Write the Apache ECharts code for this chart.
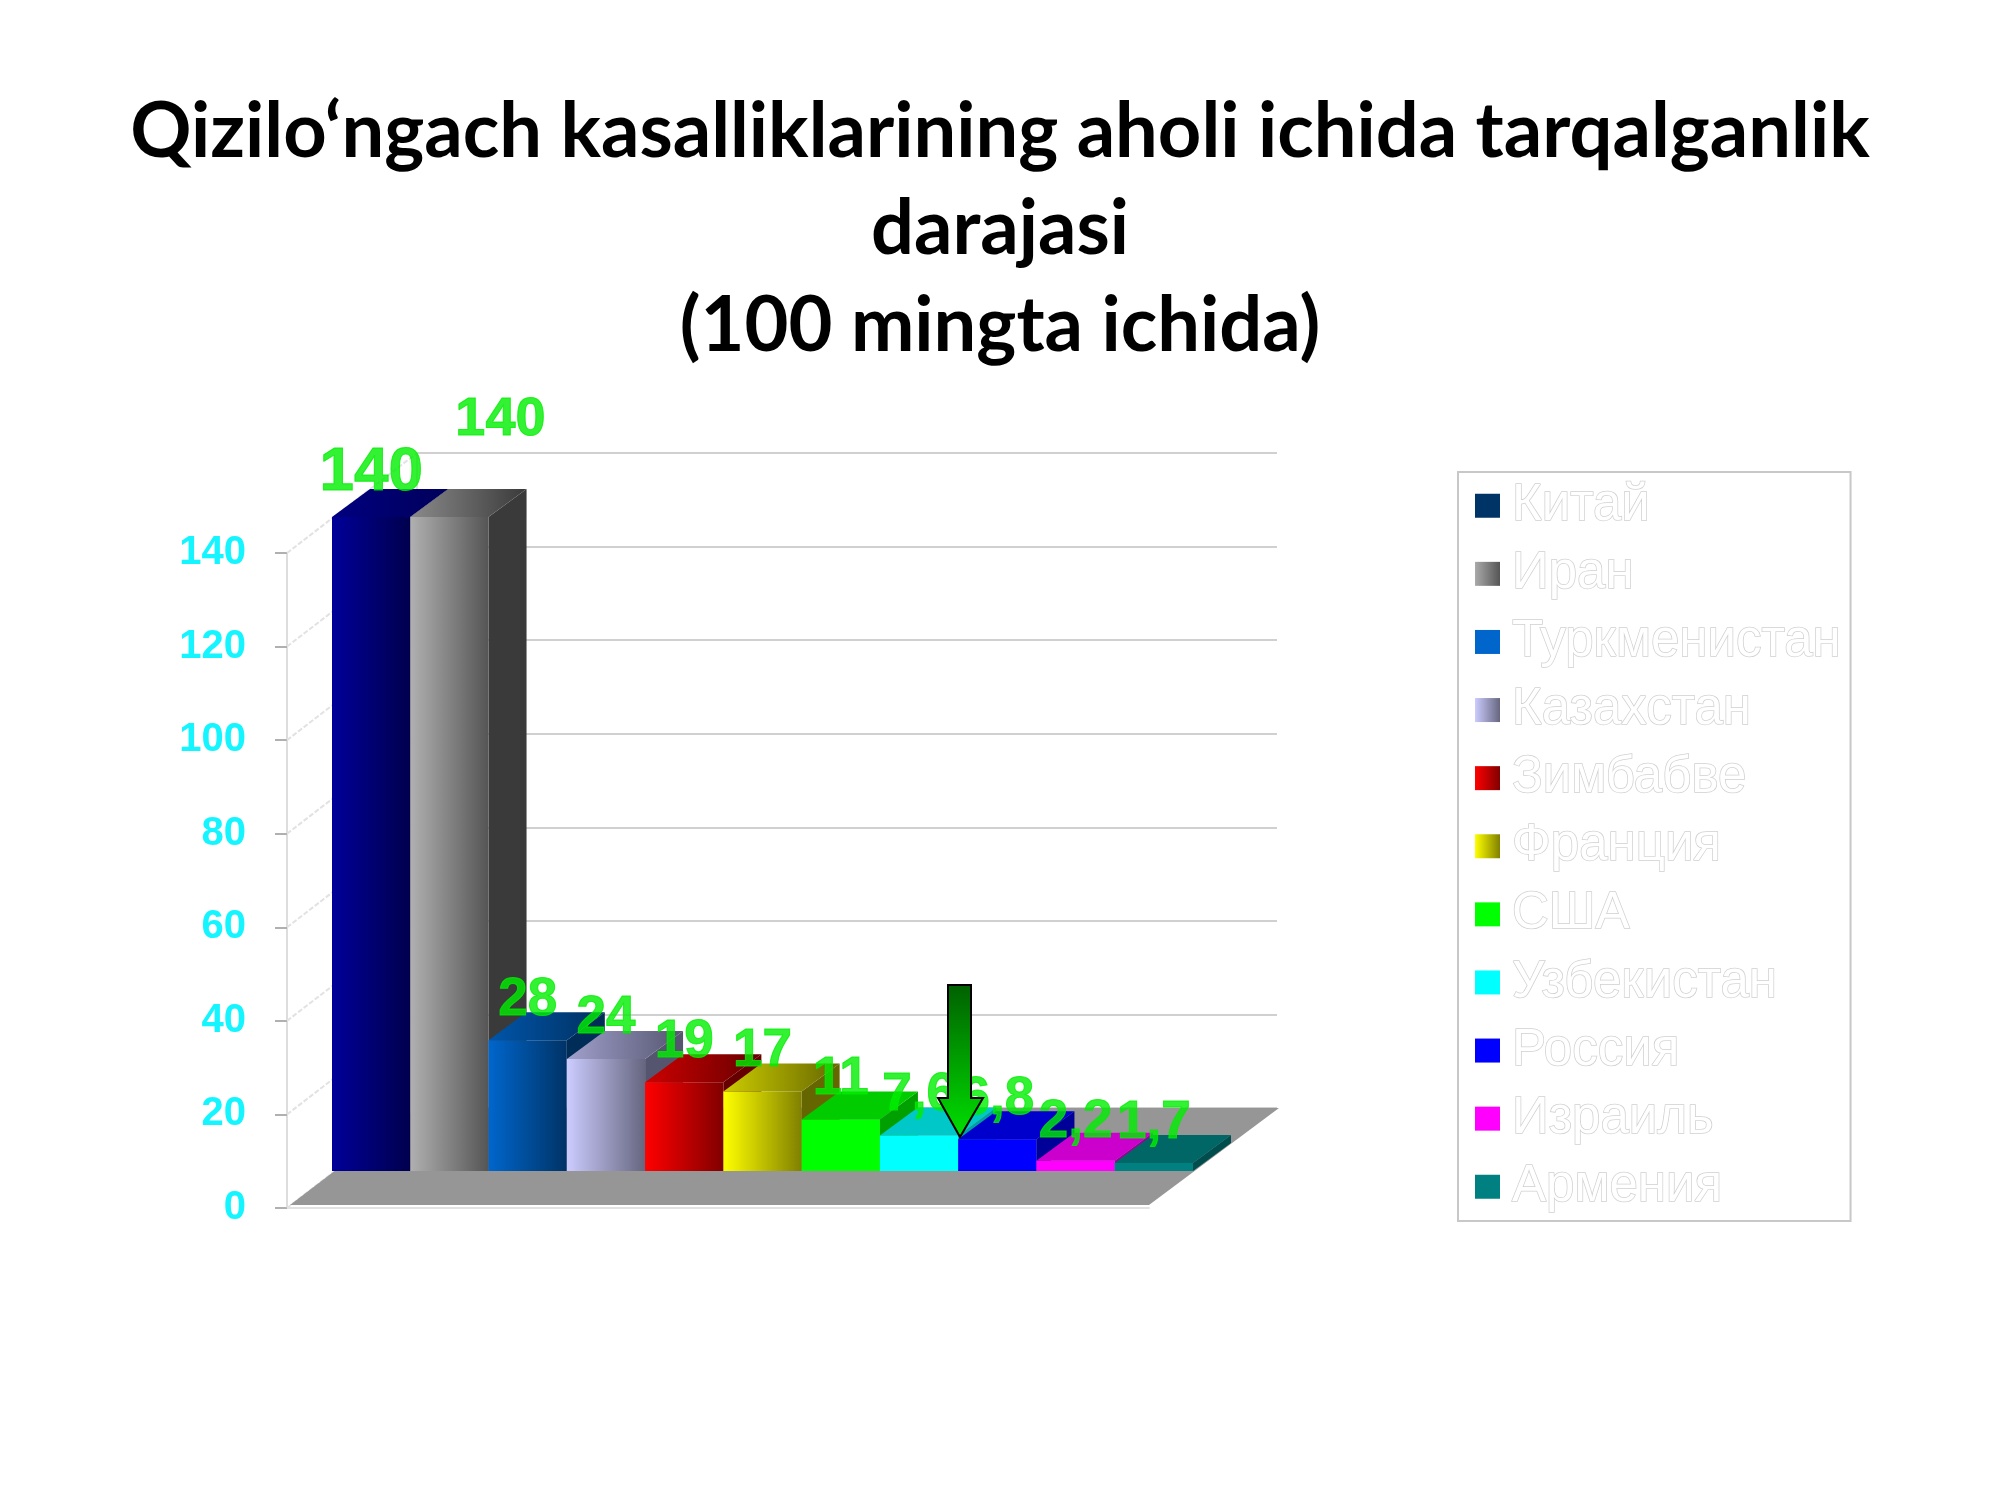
<!DOCTYPE html>
<html><head><meta charset="utf-8">
<script src="https://cdn.jsdelivr.net/npm/echarts@6/dist/echarts.min.js"></script>
<style>html,body{margin:0;background:#fff}#c{width:2000px;height:1500px}</style></head>
<body><div id="c"></div>
<script>
const titleLines = ["Qizilo‘ngach kasalliklarining aholi ichida tarqalganlik", "darajasi", "(100 mingta ichida)"];
const categories = ["Китай","Иран","Туркменистан","Казахстан","Зимбабве","Франция","США","Узбекистан","Россия","Израиль","Армения"];
const values = [140,140,28,24,19,17,11,7.6,6.8,2.2,1.7];
const valueLabels = ["140","140","28","24","19","17","11","7,6","6,8","2,2","1,7"];
const yTicks = [0,20,40,60,80,100,120,140];

const frontColors = [["#000099","#00004d"],["#b0b0b0","#555555"],["#0066cc","#003366"],["#ccccff","#666680"],["#ff0000","#800000"],["#ffff00","#808000"],["#00ff00","#00ff00"],["#00ffff","#00ffff"],["#0000ff","#0000ff"],["#ff00ff","#ff00ff"],["#008080","#008080"]];
const topColors = [["#000080","#00005a"],["#8a8a8a","#3a3a3a"],["#0055aa","#003060"],["#a0a0cc","#555570"],["#cc0000","#660000"],["#cccc00","#666600"],["#00cc00","#00cc00"],["#00c8c8","#00c8c8"],["#0000cc","#0000cc"],["#cc00cc","#cc00cc"],["#006666","#006666"]];
const sideColors = ["#00004d","#3a3a3a","#002c58","#555570","#660000","#666600","#00a000","#00a0a0","#000099","#990099","#004d4d"];
const legendColors = ["#003366",["#aaaaaa","#555555"],"#0066cc",["#ccccff","#666680"],["#ff0000","#800000"],["#ffff00","#808000"],"#00ff00","#00ffff","#0000ff","#ff00ff","#008080"];

const grad = (a, b, vertical) => ({type:"linear",x:0,y:0,x2:vertical?0:1,y2:vertical?1:0,colorStops:[{offset:0,color:a},{offset:1,color:b}]});
const BAR_DX = 38, BAR_DY = -28, WALL_DX = 130, WALL_DY = -100;
const FONT = '"Liberation Sans", Arial, sans-serif';

function barItem(idx){
  return function(params, api){
    const x = api.value(0), v = api.value(1);
    const w = api.size([1,0])[0];
    const base = api.coord([x,0]), top = api.coord([x,v]);
    const l = base[0]-w/2, r = base[0]+w/2, y0 = base[1], y1 = top[1];
    return {type:"group",children:[
      {type:"polygon",shape:{points:[[r,y0],[r+BAR_DX,y0+BAR_DY],[r+BAR_DX,y1+BAR_DY],[r,y1]]},style:{fill:sideColors[idx]}},
      {type:"polygon",shape:{points:[[l,y1],[l+BAR_DX,y1+BAR_DY],[r+BAR_DX,y1+BAR_DY],[r,y1]]},style:{fill:grad(topColors[idx][0],topColors[idx][1])}},
      {type:"rect",shape:{x:l,y:y1,width:w,height:y0-y1},style:{fill:grad(frontColors[idx][0],frontColors[idx][1])}}
    ]};
  };
}

const wallSeries = [
  {type:"custom",xAxisIndex:0,yAxisIndex:0,silent:true,z:1,data:yTicks.map(v=>[0,v]),
   renderItem(p,api){const a=api.coord([0,api.value(1)]);
     return {type:"line",shape:{x1:a[0],y1:a[1],x2:a[0]+WALL_DX,y2:a[1]+WALL_DY},style:{stroke:"#e2e2e2",lineWidth:2,lineDash:[5,2]}};}},
  {type:"custom",xAxisIndex:0,yAxisIndex:0,silent:true,z:1,data:[[0,0]],
   renderItem(p,api){const a=api.coord([0,0]),b=api.coord([1,0]);
     return {type:"polygon",shape:{points:[[a[0]+3,a[1]-3],[b[0],b[1]-3],[b[0]+WALL_DX,b[1]+WALL_DY],[a[0]+WALL_DX,a[1]+WALL_DY]]},style:{fill:"#969696"}};}}
];
const barSeries = categories.map((name,i)=>({
  type:"custom",name,xAxisIndex:2,yAxisIndex:2,z:2,silent:true,
  data:[[i,values[i]]],itemStyle:{color:frontColors[i][0]},renderItem:barItem(i)
}));
const labelOffsets = [[0,-44],[51,-97],[0,-40],[0,-40],[0,-40],[0,-40],[0,-40],[0,-40],[0,-40],[0,-38],[0,-40]];
const labelSizes = [62,54,53,53,53,53,53,53,53,53,53];
const labelSeries = {
  type:"scatter",xAxisIndex:2,yAxisIndex:2,z:3,silent:true,symbolSize:1,itemStyle:{color:"rgba(0,0,0,0)"},
  data:values.map((v,i)=>({value:[i,v],label:{show:true,position:"inside",formatter:valueLabels[i],offset:labelOffsets[i],fontSize:labelSizes[i],fontWeight:"bold",fontFamily:FONT,color:"#00ee00",textBorderColor:"#00ee00",textBorderWidth:1}}))
};

const chart = echarts.init(document.getElementById("c"),null,{renderer:"canvas"});
chart.setOption({
  animation:false,backgroundColor:"#fff",
  title:{text:titleLines.join("\n"),left:"center",top:84,padding:0,textStyle:{fontFamily:"Lato",fontWeight:"bold",fontSize:75.8,lineHeight:97,color:"#000"}},
  grid:[
    {left:287,top:553,width:862,height:655},
    {left:417,top:453,width:860,height:655},
    {left:332,top:517,width:861,height:654}
  ],
  xAxis:[
    {gridIndex:0,type:"value",min:0,max:1,axisLabel:{show:false},axisTick:{show:false},splitLine:{show:false},axisLine:{show:true,lineStyle:{color:"#e2e2e2",width:2}}},
    {gridIndex:1,type:"value",min:0,max:1,show:false},
    {gridIndex:2,type:"category",data:categories,show:false}
  ],
  yAxis:[
    {gridIndex:0,type:"value",min:0,max:140,interval:20,
     axisLine:{show:true,lineStyle:{color:"#dddddd",width:2}},axisTick:{show:true,length:12,lineStyle:{color:"#b0b0b0",width:2}},
     splitLine:{show:false},axisLabel:{margin:41,padding:[6,0,0,0],color:"#14f5ff",fontFamily:FONT,fontWeight:"bold",fontSize:40}},
    {gridIndex:1,type:"value",min:0,max:140,interval:20,position:"right",
     axisLabel:{show:false},axisTick:{show:false},axisLine:{show:true,lineStyle:{color:"#e2e2e2",width:2}},
     splitLine:{show:true,lineStyle:{color:"#d0d0d0",width:2}}},
    {gridIndex:2,type:"value",min:0,max:140,interval:20,show:false}
  ],
  legend:{
    left:1458,top:472,orient:"vertical",icon:"rect",itemWidth:25,itemHeight:24,itemGap:15.6,
    padding:[7.5,9,8,17],borderColor:"#c8c8c8",borderWidth:2,selectedMode:false,
    textStyle:{fontFamily:FONT,fontSize:51,lineHeight:51,color:"#ffffff",textBorderColor:"#d0d0d0",textBorderWidth:1.5,padding:[0,0,0,7]},
    data:categories.map((name,i)=>({name,itemStyle:{color:Array.isArray(legendColors[i])?grad(legendColors[i][0],legendColors[i][1]):legendColors[i]}}))
  },
  graphic:[{type:"polygon",z:100,shape:{points:[[948,985],[971,985],[971,1098],[983,1098],[960,1137],[938,1098],[948,1098]]},
    style:{fill:grad("#006000","#00e000",true),stroke:"#000",lineWidth:2}}],
  series:[...wallSeries,...barSeries,labelSeries]
});
</script></body></html>
